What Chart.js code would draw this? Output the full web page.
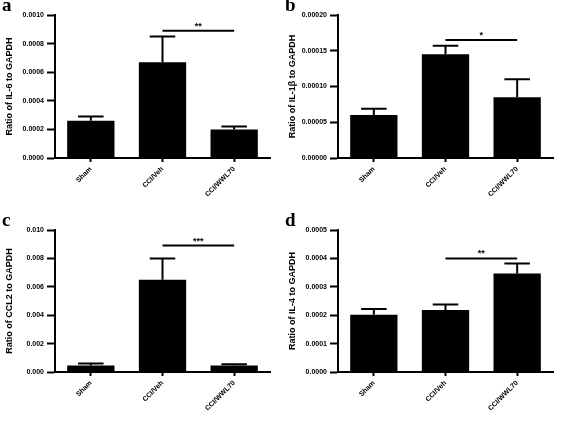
<!DOCTYPE html>
<html>
<head>
<script src="https://cdn.jsdelivr.net/npm/chart.js@4"></script>
<style>
body { margin: 0; background: #fff; }
.panel { position: absolute; width: 283px; height: 215px; }
.letter { position: absolute; left: 2px; top: -6px; font: bold 19px "Liberation Serif", serif; }
</style>
</head>
<body>
<div class="panel" style="left:0;top:0"><canvas id="ca" width="283" height="215"></canvas><div class="letter">a</div></div>
<div class="panel" style="left:283px;top:0"><canvas id="cb" width="283" height="215"></canvas><div class="letter">b</div></div>
<div class="panel" style="left:0;top:215px"><canvas id="cc" width="283" height="214"></canvas><div class="letter">c</div></div>
<div class="panel" style="left:283px;top:215px"><canvas id="cd" width="283" height="214"></canvas><div class="letter">d</div></div>
<script>
// groups shared by all panels
var groups = ['Sham', 'CCI/Veh', 'CCI/WWL70'];

// panel a: IL-6
var il6 = [0.00026, 0.00067, 0.00020];
var il6Err = [0.00003, 0.00018, 0.00002];
// panel b: IL-1β
var il1b = [0.00006, 0.000145, 0.000085];
var il1bErr = [0.000009, 0.000012, 0.000025];
// panel c: CCL2
var ccl2 = [0.00045, 0.0065, 0.00045];
var ccl2Err = [0.00015, 0.0015, 0.0001];
// panel d: IL-4
var il4 = [0.000202, 0.000218, 0.000347];
var il4Err = [0.00002, 0.00002, 0.000035];

// significance bars: [from index, to index, y value, stars]
var sigA = [1, 2, 0.00089, '**'];
var sigB = [1, 2, 0.000165, '*'];
var sigC = [1, 2, 0.0089, '***'];
var sigD = [1, 2, 0.0004, '**'];

var errPlugin = {
    id: 'errs',
    afterDatasetsDraw(chart, args, opts) {
        const ctx = chart.ctx, x = chart.scales.x, y = chart.scales.y;
        const meta = chart.getDatasetMeta(0);
        ctx.save();
        ctx.strokeStyle = '#000';
        ctx.lineWidth = 2;
        opts.err.forEach((e, i) => {
            const bar = meta.data[i];
            const top = y.getPixelForValue(opts.vals[i] + e);
            const half = bar.width * 0.27;
            ctx.beginPath();
            ctx.moveTo(bar.x, bar.y);
            ctx.lineTo(bar.x, top);
            ctx.moveTo(bar.x - half, top);
            ctx.lineTo(bar.x + half, top);
            ctx.stroke();
        });
        const s = opts.sig;
        const x1 = x.getPixelForValue(s[0]), x2 = x.getPixelForValue(s[1]);
        const sy = y.getPixelForValue(s[2]);
        ctx.beginPath();
        ctx.moveTo(x1, sy);
        ctx.lineTo(x2, sy);
        ctx.stroke();
        ctx.fillStyle = '#000';
        ctx.font = 'bold 9px Arial';
        ctx.textAlign = 'center';
        ctx.fillText(s[3], (x1 + x2) / 2, sy - 2);
        ctx.restore();
    }
};

function makeChart(id, vals, err, sig, max, step, digits, title) {
    new Chart(document.getElementById(id), {
        type: 'bar',
        data: {
            labels: groups,
            datasets: [{
                data: vals,
                backgroundColor: '#000',
                barPercentage: 0.66,
                categoryPercentage: 1
            }]
        },
        options: {
            responsive: false,
            animation: false,
            layout: { padding: { top: 15, right: 13 } },
            plugins: {
                legend: { display: false },
                tooltip: { enabled: false },
                errs: { vals: vals, err: err, sig: sig }
            },
            scales: {
                x: {
                    offset: true,
                    grid: { drawOnChartArea: false, drawTicks: true, tickColor: '#000', tickWidth: 2, tickLength: 4, offset: false },
                    border: { color: '#000', width: 2 },
                    ticks: { color: '#000', font: { family: 'Arial', weight: 'bold', size: 7 }, maxRotation: 45, minRotation: 45 },
                    afterFit: function (s) { s.height = 57; }
                },
                y: {
                    min: 0,
                    max: max,
                    grid: { drawOnChartArea: false, drawTicks: true, tickColor: '#000', tickWidth: 2 },
                    border: { color: '#000', width: 2 },
                    ticks: {
                        stepSize: step,
                        color: '#000',
                        font: { family: 'Arial', weight: 'bold', size: 7 },
                        callback: function (v) { return v.toFixed(digits); }
                    },
                    title: { display: true, text: title, color: '#000', font: { family: 'Arial', weight: 'bold', size: 9 } },
                    afterFit: function (s) { s.width = 55; }
                }
            }
        },
        plugins: [errPlugin]
    });
}

makeChart('ca', il6, il6Err, sigA, 0.001, 0.0002, 4, 'Ratio of IL-6 to GAPDH');
makeChart('cb', il1b, il1bErr, sigB, 0.0002, 0.00005, 5, 'Ratio of IL-1β to GAPDH');
makeChart('cc', ccl2, ccl2Err, sigC, 0.01, 0.002, 3, 'Ratio of CCL2 to GAPDH');
makeChart('cd', il4, il4Err, sigD, 0.0005, 0.0001, 4, 'Ratio of IL-4 to GAPDH');
</script>
</body>
</html>
